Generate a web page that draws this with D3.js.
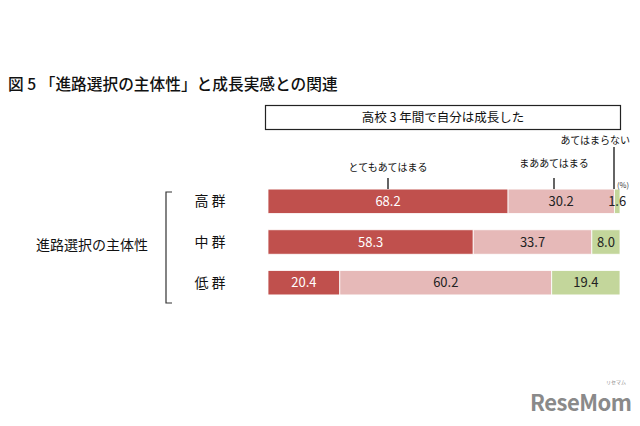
<!DOCTYPE html>
<html><head><meta charset="utf-8">
<script src="https://cdn.jsdelivr.net/npm/d3@7"></script>
<style>body{margin:0;background:#fff}svg{display:block}text{font-family:"Noto Sans CJK JP","Noto Sans",sans-serif}</style>
</head><body><svg id="c" width="640" height="426"></svg>
<script>
const title = "図 5 「進路選択の主体性」と成長実感との関連";
const header = "高校 3 年間で自分は成長した";
const axisGroup = "進路選択の主体性";
const categories = ["高 群", "中 群", "低 群"];
const seriesNames = ["とてもあてはまる", "まああてはまる", "あてはまらない"];
const veryTrue = [68.2, 58.3, 20.4];
const somewhatTrue = [30.2, 33.7, 60.2];
const notTrue = [1.6, 8.0, 19.4];
const colors = ["#c0504d", "#e6b9b8", "#c3d69b"];
const textColors = ["#ffffff", "#222222", "#222222"];

const svg = d3.select("#c");
const x = d3.scaleLinear().domain([0, 100]).range([268, 620]);
const y = d3.scaleBand().domain(categories).range([185, 299]).paddingInner(0.4).paddingOuter(0.1);

const rows = categories.map((c, i) => ({cat: c, vals: [veryTrue[i], somewhatTrue[i], notTrue[i]]}));
const stack = d3.stack().keys([0, 1, 2]).value((d, k) => d.vals[k]);
const series = stack(rows);

svg.append("text").attr("x", 8).attr("y", 90).attr("font-size", 15.7).attr("font-weight", 500).attr("fill", "#111").text(title);

svg.append("rect").attr("x", 265.5).attr("y", 105.5).attr("width", 355).attr("height", 24).attr("fill", "none").attr("stroke", "#222").attr("stroke-width", 1.2);
svg.append("text").attr("x", 443).attr("y", 122).attr("text-anchor", "middle").attr("font-size", 12.5).attr("fill", "#111").text(header);

series.forEach((s, k) => {
  const g = svg.append("g");
  g.selectAll("rect").data(s).join("rect")
    .attr("x", d => x(d[0])).attr("width", d => x(d[1]) - x(d[0]))
    .attr("y", d => y(d.data.cat)).attr("height", y.bandwidth())
    .attr("fill", colors[k]).attr("stroke", "#fff").attr("stroke-width", 0.8);
  g.selectAll("text").data(s).join("text")
    .attr("x", d => (x(d[0]) + x(d[1])) / 2)
    .attr("y", d => y(d.data.cat) + y.bandwidth() / 2 + 4.5)
    .attr("text-anchor", "middle").attr("font-size", 13)
    .attr("font-family", "'Open Sans','Noto Sans',sans-serif")
    .attr("fill", textColors[k]).text(d => d.data.vals[k].toFixed(1));
});

// category labels
svg.append("g").selectAll("text").data(categories).join("text")
  .attr("x", 210).attr("y", d => y(d) + y.bandwidth() / 2 + 5)
  .attr("text-anchor", "middle").attr("font-size", 14).attr("fill", "#111").text(d => d);

// bracket
const bt = 192, bb = 303;
svg.append("path").attr("d", `M172,${bt} H166 V${bb} H172`).attr("fill", "none").attr("stroke", "#333").attr("stroke-width", 1.2);
svg.append("text").attr("x", 92).attr("y", 250).attr("text-anchor", "middle").attr("font-size", 14).attr("fill", "#111").text(axisGroup);

// legend annotations
const barTop = y(categories[0]);
const ann = [
  {name: seriesNames[0], lx: 388, ty: 171, ly0: 178},
  {name: seriesNames[1], lx: 554, ty: 167, ly0: 178},
  {name: seriesNames[2], lx: 614, ty: 144, ly0: 147, anchor: "end", tx: 630}
];
ann.forEach(a => {
  svg.append("line").attr("x1", a.lx).attr("x2", a.lx).attr("y1", a.ly0).attr("y2", barTop).attr("stroke", "#111").attr("stroke-width", 1.3);
  svg.append("text").attr("x", a.tx || a.lx).attr("y", a.ty).attr("text-anchor", a.anchor || "middle").attr("font-size", 10).attr("fill", "#111").text(a.name);
});
svg.append("text").attr("x", 617).attr("y", 188).attr("font-size", 7.5).attr("fill", "#333").text("(%)");

// watermark
svg.append("text").attr("x", 530).attr("y", 411).attr("font-size", 22).attr("font-weight", 700)
  .attr("font-family", "'Noto Sans',sans-serif").attr("fill", "#8a8a8a").attr("letter-spacing", -0.5).text("ReseMom");
svg.append("text").attr("x", 606).attr("y", 384).attr("font-size", 5).attr("fill", "#8a8a8a").text("リセマム");
</script></body></html>
